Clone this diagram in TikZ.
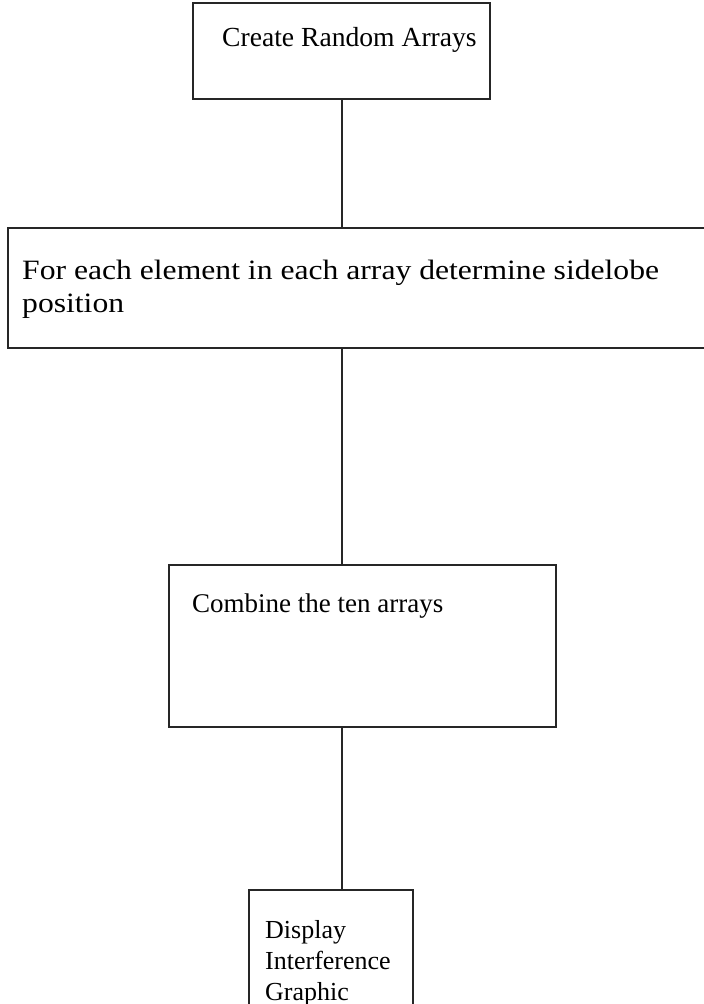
\documentclass[tikz,border=0pt]{standalone}
\usepackage{fontspec}
\setmainfont{Liberation Serif}
\newfontfamily\widefont[FakeStretch=1.13]{Liberation Serif}
\begin{document}
\begin{tikzpicture}[x=1pt,y=-1pt,
  stepbox/.style={draw=black!85, line width=1.4pt, rectangle, inner sep=0pt, outer sep=0pt, anchor=north west},
  steptext/.style={anchor=base west, inner sep=0pt, font=\fontsize{26}{31}\selectfont},
  link/.style={draw=black!85, line width=1.4pt}]
\useasboundingbox (0,0) rectangle (704,1004);
\clip (0,0) rectangle (704,1004);

% process boxes
\node[stepbox, minimum width=297pt, minimum height=96pt] (create) at (193,3) {};
\node[stepbox, minimum width=710pt, minimum height=120pt] (sidelobe) at (8,228) {};
\node[stepbox, minimum width=387pt, minimum height=162pt] (combine) at (169,565) {};
\node[stepbox, minimum width=164pt, minimum height=130pt] (display) at (249,890) {};

% box captions
\node[steptext, font=\fontsize{27.6}{32}\selectfont] (tcreate) at (222,46) {Create Random Arrays};
\node[steptext, font=\widefont\fontsize{28}{33}\selectfont] (tside1) at (22,279) {For each element in each array determine sidelobe};
\node[steptext, font=\widefont\fontsize{28}{33}\selectfont] (tside2) at (22,312) {position};
\node[steptext, font=\fontsize{27}{31}\selectfont] (tcomb) at (192,612) {Combine the ten arrays};
\node[steptext] (tdisp1) at (265,938) {Display};
\node[steptext] (tdisp2) at (265,969) {Interference};
\node[steptext] (tdisp3) at (265,1000) {Graphic};

% connectors
\coordinate (c1) at (342,99);
\coordinate (c3) at (342,348);
\coordinate (c5) at (342,727);
\draw[link] (create.south -| c1) -- (sidelobe.north -| c1);
\draw[link] (sidelobe.south -| c3) -- (combine.north -| c3);
\draw[link] (combine.south -| c5) -- (display.north -| c5);
\end{tikzpicture}
\end{document}
